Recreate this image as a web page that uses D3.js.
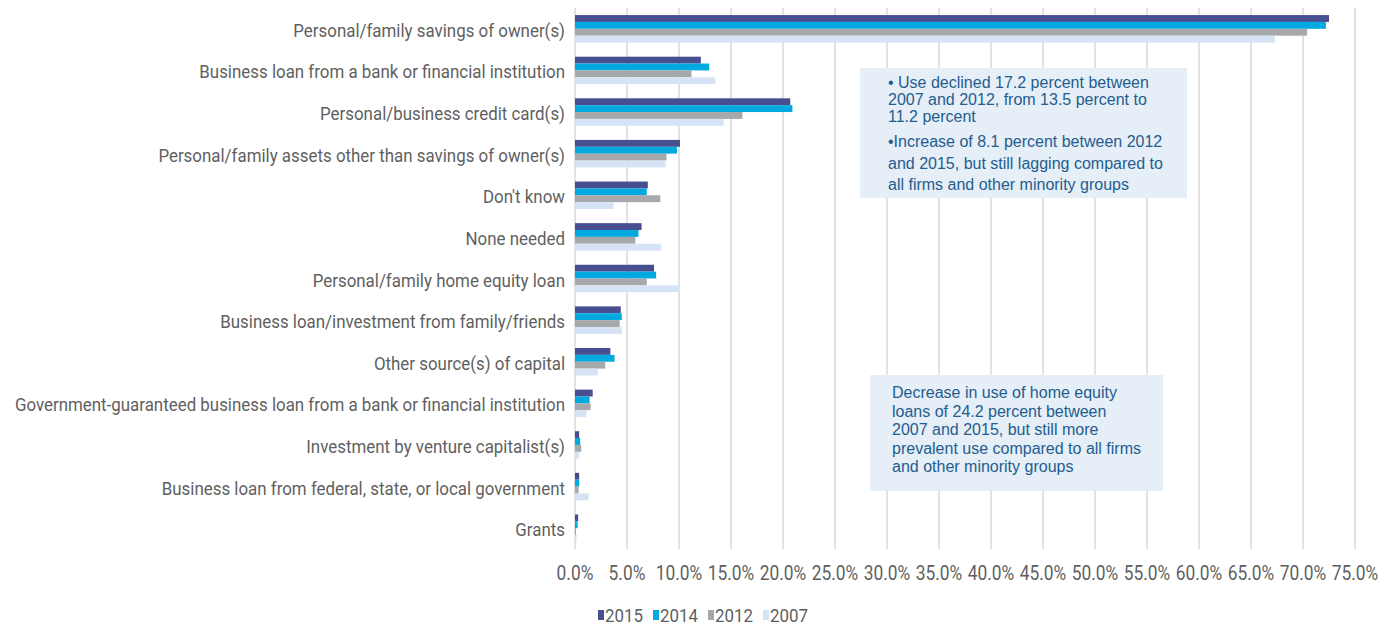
<!DOCTYPE html>
<html>
<head>
<meta charset="utf-8">
<script src="https://cdn.jsdelivr.net/npm/d3@7"></script>
<style>
  html, body { margin: 0; padding: 0; background: #fff; }
  svg { display: block; }
  .lbl { font-family: Roboto, "Liberation Sans", sans-serif; fill: #5f5f5f; }
  .note { font-family: "Liberation Sans", Arial, sans-serif; fill: #235d8e; font-size: 16px; }
</style>
</head>
<body>
<svg id="chart" width="1395" height="627"></svg>
<script>
// Sources of capital used by owners, share of firms by year (percent)
const categories = [
  "Personal/family savings of owner(s)",
  "Business loan from a bank or financial institution",
  "Personal/business credit card(s)",
  "Personal/family assets other than savings of owner(s)",
  "Don't know",
  "None needed",
  "Personal/family home equity loan",
  "Business loan/investment from family/friends",
  "Other source(s) of capital",
  "Government-guaranteed business loan from a bank or financial institution",
  "Investment by venture capitalist(s)",
  "Business loan from federal, state, or local government",
  "Grants"
];
const years = ["2015", "2014", "2012", "2007"];
const values2015 = [72.5, 12.1, 20.7, 10.1, 7.0, 6.4, 7.6, 4.4, 3.4, 1.7, 0.4, 0.4, 0.3];
const values2014 = [72.2, 12.9, 20.9, 9.8, 6.9, 6.1, 7.8, 4.5, 3.8, 1.4, 0.5, 0.4, 0.25];
const values2012 = [70.4, 11.2, 16.1, 8.8, 8.2, 5.8, 6.9, 4.3, 2.9, 1.5, 0.6, 0.35, 0.1];
const values2007 = [67.3, 13.5, 14.3, 8.7, 3.7, 8.3, 10.0, 4.5, 2.2, 1.1, 0.4, 1.3, 0.15];
const tickValues = [0, 5, 10, 15, 20, 25, 30, 35, 40, 45, 50, 55, 60, 65, 70, 75];
const seriesColors = ["#474f91", "#00a9df", "#a6a8ab", "#d5e3f5"];

const notes = [
  { x: 860, y: 68, w: 327, h: 130, tx: 28, lines: [
      { t: "• Use declined 17.2 percent between", dy: 20 },
      { t: "2007 and 2012, from 13.5 percent to", dy: 37 },
      { t: "11.2 percent", dy: 54 },
      { t: "•Increase of 8.1 percent between 2012", dy: 79 },
      { t: "and 2015, but still lagging compared to", dy: 101 },
      { t: "all firms and other minority groups", dy: 122 }
  ]},
  { x: 870, y: 375, w: 293, h: 116, tx: 22, lines: [
      { t: "Decrease in use of home equity", dy: 23 },
      { t: "loans of 24.2 percent between", dy: 41.5 },
      { t: "2007 and 2015, but still more", dy: 60 },
      { t: "prevalent use compared to all firms", dy: 78.5 },
      { t: "and other minority groups", dy: 97 }
  ]}
];

const seriesValues = [values2015, values2014, values2012, values2007];
const rows = categories.map((c, i) => ({
  cat: c,
  vals: years.map((y, j) => ({ year: y, v: seriesValues[j][i], color: seriesColors[j] }))
}));

const svg = d3.select("#chart");
const plot = { left: 575, right: 1355, top: 8, bottom: 549 };
const squeeze = 0.89;

const x = d3.scaleLinear().domain([0, 75]).range([plot.left, plot.right]);
const y = d3.scaleBand().domain(categories).range([plot.top, plot.bottom])
  .paddingInner(0.34).paddingOuter(0.17);
const ySub = d3.scaleBand().domain(years).range([0, y.bandwidth()]).padding(0);

// vertical gridlines
svg.append("g").selectAll("line").data(tickValues).join("line")
  .attr("x1", d => x(d)).attr("x2", d => x(d))
  .attr("y1", plot.top).attr("y2", plot.bottom)
  .attr("stroke", "#d9d9d9").attr("stroke-width", 1.5);

// x tick labels
svg.append("g").selectAll("g").data(tickValues).join("g")
  .attr("transform", d => `translate(${x(d)},580) scale(${squeeze},1)`)
  .append("text").attr("class", "lbl").attr("text-anchor", "middle")
  .attr("font-size", 19.5).text(d => d.toFixed(1) + "%");

// category labels
svg.append("g").selectAll("g").data(categories).join("g")
  .attr("transform", d => `translate(565,${y(d) + y.bandwidth() / 2 + 8}) scale(${squeeze},1)`)
  .append("text").attr("class", "lbl").attr("text-anchor", "end")
  .attr("font-size", 19).text(d => d);

// bars
const groups = svg.append("g").selectAll("g").data(rows).join("g")
  .attr("transform", d => `translate(0,${y(d.cat)})`);
groups.selectAll("rect").data(d => d.vals).join("rect")
  .attr("x", x(0))
  .attr("y", d => ySub(d.year))
  .attr("width", d => x(d.v) - x(0))
  .attr("height", ySub.bandwidth())
  .attr("fill", d => d.color);

// annotation boxes
const noteG = svg.append("g").selectAll("g").data(notes).join("g")
  .attr("transform", d => `translate(${d.x},${d.y})`);
noteG.append("rect").attr("width", d => d.w).attr("height", d => d.h).attr("fill", "#e6eef8");
noteG.each(function (n) {
  d3.select(this).selectAll("text").data(n.lines).join("text")
    .attr("class", "note").attr("x", n.tx).attr("y", d => d.dy).text(d => d.t);
});

// legend
const legendX = d3.scaleOrdinal().domain(years).range([598, 653, 708, 763]);
const leg = svg.append("g").selectAll("g").data(years).join("g")
  .attr("transform", d => `translate(${legendX(d)},0)`);
leg.append("rect").attr("x", 0).attr("y", 610).attr("width", 6).attr("height", 10)
  .attr("fill", (d, i) => seriesColors[i]);
leg.append("g").attr("transform", `translate(7,622) scale(${squeeze},1)`)
  .append("text").attr("class", "lbl").attr("font-size", 19).text(d => d);
</script>
</body>
</html>
